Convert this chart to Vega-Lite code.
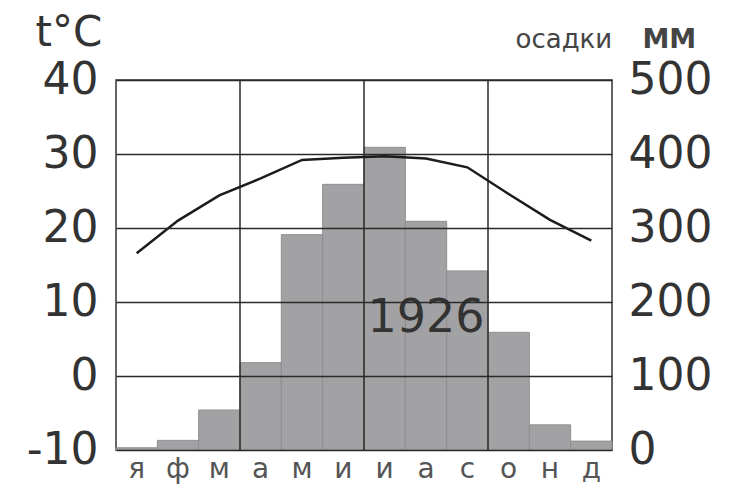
{
  "$schema": "https://vega.github.io/schema/vega-lite/v6.json",
  "width": 496,
  "height": 370,
  "autosize": {"type": "none"},
  "padding": {"left": 116, "top": 80, "right": 118, "bottom": 40},
  "background": "white",
  "config": {
    "view": {"stroke": "#333333", "strokeWidth": 1.5},
    "font": "DejaVu Sans"
  },
  "datasets": {
    "climate": [
      {"m": 1, "mon": "я", "p": 3, "t": 16.6},
      {"m": 2, "mon": "ф", "p": 13, "t": 21.0},
      {"m": 3, "mon": "м", "p": 54, "t": 24.4},
      {"m": 4, "mon": "а", "p": 118, "t": 26.7},
      {"m": 5, "mon": "м", "p": 291, "t": 29.2},
      {"m": 6, "mon": "и", "p": 359, "t": 29.5},
      {"m": 7, "mon": "и", "p": 409, "t": 29.7},
      {"m": 8, "mon": "а", "p": 309, "t": 29.4},
      {"m": 9, "mon": "с", "p": 242, "t": 28.2},
      {"m": 10, "mon": "о", "p": 159, "t": 24.6},
      {"m": 11, "mon": "н", "p": 34, "t": 21.1},
      {"m": 12, "mon": "д", "p": 12, "t": 18.3}
    ],
    "grid": [{"m": 4}, {"m": 7}, {"m": 10}],
    "note": [{"m": 8, "t": 7.8, "label": "1926"}]
  },
  "layer": [
    {
      "data": {"name": "climate"},
      "mark": {"type": "bar", "color": "#a2a2a4", "stroke": "#8f8f91", "strokeWidth": 1},
      "encoding": {
        "x": {
          "field": "m",
          "type": "ordinal",
          "scale": {"domain": [1, 2, 3, 4, 5, 6, 7, 8, 9, 10, 11, 12], "paddingInner": 0, "paddingOuter": 0},
          "axis": {
            "labelExpr": "['я','ф','м','а','м','и','и','а','с','о','н','д'][datum.value-1]",
            "labelAngle": 0,
            "labelFontSize": 28,
            "labelColor": "#555555",
            "labelBaseline": "alphabetic",
            "labelPadding": 27,
            "ticks": false,
            "tickSize": 0,
            "domain": false,
            "grid": false,
            "title": "ММ",
            "titleFontSize": 27,
            "titleFontWeight": "bold",
            "titleColor": "#444444",
            "titleX": 526,
            "titleY": -403,
            "titleAlign": "left",
            "titleBaseline": "alphabetic"
          }
        },
        "y": {
          "field": "p",
          "type": "quantitative",
          "scale": {"domain": [0, 500], "nice": false},
          "axis": {
            "orient": "right",
            "values": [0, 100, 200, 300, 400, 500],
            "grid": false,
            "domain": false,
            "ticks": false,
            "tickSize": 0,
            "labelPadding": 16,
            "labelFontSize": 44,
            "labelColor": "#333333",
            "labelBaseline": "middle",
            "labelFlush": false,
            "title": "осадки",
            "titleAngle": 0,
            "titleFontSize": 26,
            "titleFontWeight": "normal",
            "titleColor": "#444444",
            "titleX": -97,
            "titleY": -33,
            "titleAlign": "left",
            "titleBaseline": "alphabetic"
          }
        }
      }
    },
    {
      "data": {"name": "grid"},
      "mark": {"type": "rule", "color": "#2a2a2a", "strokeWidth": 1.5},
      "encoding": {
        "x": {"field": "m", "type": "ordinal", "bandPosition": 0}
      }
    },
    {
      "data": {"name": "climate"},
      "mark": {"type": "line", "color": "#1c1c1c", "strokeWidth": 2.5},
      "encoding": {
        "x": {"field": "m", "type": "ordinal"},
        "y": {
          "field": "t",
          "type": "quantitative",
          "scale": {"domain": [-10, 40], "nice": false},
          "axis": {
            "orient": "left",
            "values": [-10, 0, 10, 20, 30, 40],
            "labelExpr": "'' + datum.value",
            "grid": true,
            "gridColor": "#2a2a2a",
            "gridWidth": 1.3,
            "zindex": 1,
            "domain": false,
            "ticks": false,
            "tickSize": 0,
            "labelPadding": 18,
            "labelFontSize": 44,
            "labelColor": "#333333",
            "labelBaseline": "middle",
            "labelFlush": false,
            "title": "t°C",
            "titleAngle": 0,
            "titleFontSize": 42,
            "titleFontWeight": "normal",
            "titleColor": "#333333",
            "titleX": -81,
            "titleY": -35,
            "titleAlign": "left",
            "titleBaseline": "alphabetic"
          }
        }
      }
    },
    {
      "data": {"name": "note"},
      "mark": {"type": "text", "fontSize": 46, "color": "#333333", "align": "center", "baseline": "middle"},
      "encoding": {
        "x": {"field": "m", "type": "ordinal"},
        "y": {"field": "t", "type": "quantitative", "scale": {"domain": [-10, 40], "nice": false}, "axis": null},
        "text": {"field": "label"}
      }
    }
  ],
  "resolve": {"scale": {"y": "independent"}, "axis": {"y": "independent"}}
}
